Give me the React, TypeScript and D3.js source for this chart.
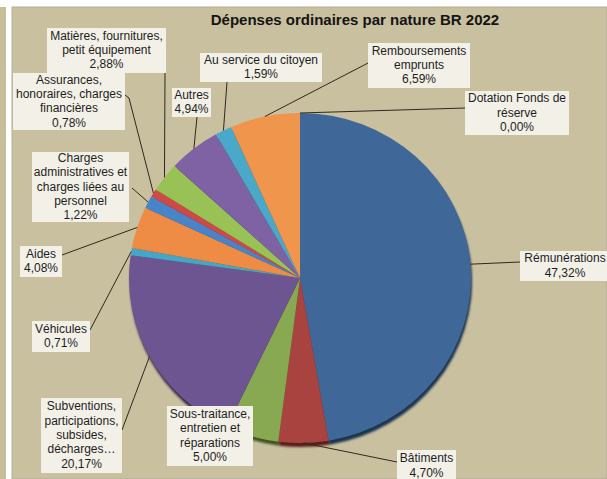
import * as d3 from 'd3';

// Dépenses ordinaires par nature BR 2022 (share in %)
const categories = [
  'Rémunérations',
  'Bâtiments',
  'Sous-traitance,\nentretien et\nréparations',
  'Subventions,\nparticipations,\nsubsides,\ndécharges…',
  'Véhicules',
  'Aides',
  'Charges\nadministratives et\ncharges liées au\npersonnel',
  'Assurances,\nhonoraires, charges\nfinancières',
  'Matières, fournitures,\npetit équipement',
  'Autres',
  'Au service du citoyen',
  'Remboursements\nemprunts',
  'Dotation Fonds de\nréserve',
];
const values = [47.32, 4.7, 5.0, 20.17, 0.71, 4.08, 1.22, 0.78, 2.88, 4.94, 1.59, 6.59, 0.0];
const valueLabels = ['47,32%', '4,70%', '5,00%', '20,17%', '0,71%', '4,08%', '1,22%', '0,78%', '2,88%', '4,94%', '1,59%', '6,59%', '0,00%'];

// styling / layout (not data)
const colors = ['#3f6898', '#a8433f', '#89a852', '#6d5592', '#45a6c6', '#ee8c45', '#4a84c8', '#cf4a47', '#98c255', '#7f62a3', '#4aa8c8', '#f0954c', '#3f6898'];
const darkColors = ['#1f3450', '#5a1f1c', '#3f5224', '#362a4a', '#215260', '#7a4520', '#234268', '#682322', '#4a6028', '#3f3152', '#235460', '#7a4a24', '#1f3450'];
// label boxes [x, y, w, h] and where the leader line meets the box
const boxes = [
  [520, 251, 90, 30], [397, 450, 59, 32], [167, 406, 86, 60], [41, 398, 81, 75],
  [32, 321, 58, 31], [20, 246, 42, 31], [32, 152, 97, 70], [13, 73, 112, 57],
  [47, 28, 119, 45], [172, 88, 39, 29], [200, 53, 122, 29], [368, 43, 102, 45], [465, 91, 104, 44],
];
const anchors: ([number, number][] | null)[] = [
  [[520, 262]], [[397, 462]], null, [[122, 430]],
  [[90, 330]], [[62, 255]], [[132, 188]], [[129, 98], [125, 95]],
  [[165, 73]], [[197, 117]], [[227, 82]], [[370, 62]], [[465, 108]],
];

const W = 607;
const H = 479;
const cx = 300;
const cy = 278;
const rx = 171;
const ry = 165;

export default function App() {
  const pie = d3.pie<number>().sort(null).value((d) => d);
  const arcs = pie(values);
  const arc = d3.arc<d3.PieArcDatum<number>>().innerRadius(0).outerRadius(ry);
  const sx = rx / ry;

  const edgePoint = (a: d3.PieArcDatum<number>): [number, number] => {
    const m = (a.startAngle + a.endAngle) / 2;
    return [cx + rx * Math.sin(m), cy - ry * Math.cos(m)];
  };

  return (
    <svg
      width={W}
      height={H}
      style={{ position: 'absolute', left: 0, top: 0, fontFamily: '"Liberation Sans", Arial, sans-serif' }}
    >
      <defs>
        <filter id="soft" x="-10%" y="-10%" width="120%" height="120%">
          <feGaussianBlur stdDeviation="0.8" />
        </filter>
      </defs>
      <rect x={0} y={0} width={W} height={H} fill="#ffffff" />
      <rect x={0} y={7} width={6} height={H - 7} fill="#c6bd9b" />
      <rect x={12} y={7} width={W - 12} height={H - 7} fill="#c9c09f" stroke="#b3ad98" strokeWidth={1} />

      <text x={355} y={25} textAnchor="middle" fontSize={15} fontWeight="bold" fill="#141414">
        Dépenses ordinaires par nature BR 2022
      </text>

      {/* 3D rim underneath */}
      <g transform={`translate(${cx + 1},${cy + 4}) scale(${sx},1)`} filter="url(#soft)">
        {arcs.map((a, i) => (
          <path key={i} d={arc(a) || ''} fill={darkColors[i]} />
        ))}
      </g>
      <g transform={`translate(${cx},${cy}) scale(${sx},1)`}>
        {arcs.map((a, i) => (
          <path key={i} d={arc(a) || ''} fill={colors[i]} />
        ))}
      </g>

      {/* leader lines */}
      {arcs.map((a, i) => {
        const pts = anchors[i];
        if (!pts) return null;
        const line = d3.line()([edgePoint(a), ...pts]);
        return <path key={i} d={line || ''} fill="none" stroke="#2e2a1c" strokeWidth={1} />;
      })}

      {/* labels */}
      {categories.map((c, i) => {
        const [bx, by, bw, bh] = boxes[i];
        const lines = [...c.split('\n'), valueLabels[i]];
        const lh = 14.3;
        const top = by + bh / 2 - (lines.length * lh) / 2 + lh * 0.75;
        return (
          <g key={i}>
            <rect x={bx} y={by} width={bw} height={bh} fill="#f2f0e7" />
            {lines.map((t, j) => (
              <text key={j} x={bx + bw / 2} y={top + j * lh} textAnchor="middle" fontSize={12} fill="#1e1e1e">
                {t}
              </text>
            ))}
          </g>
        );
      })}
    </svg>
  );
}
